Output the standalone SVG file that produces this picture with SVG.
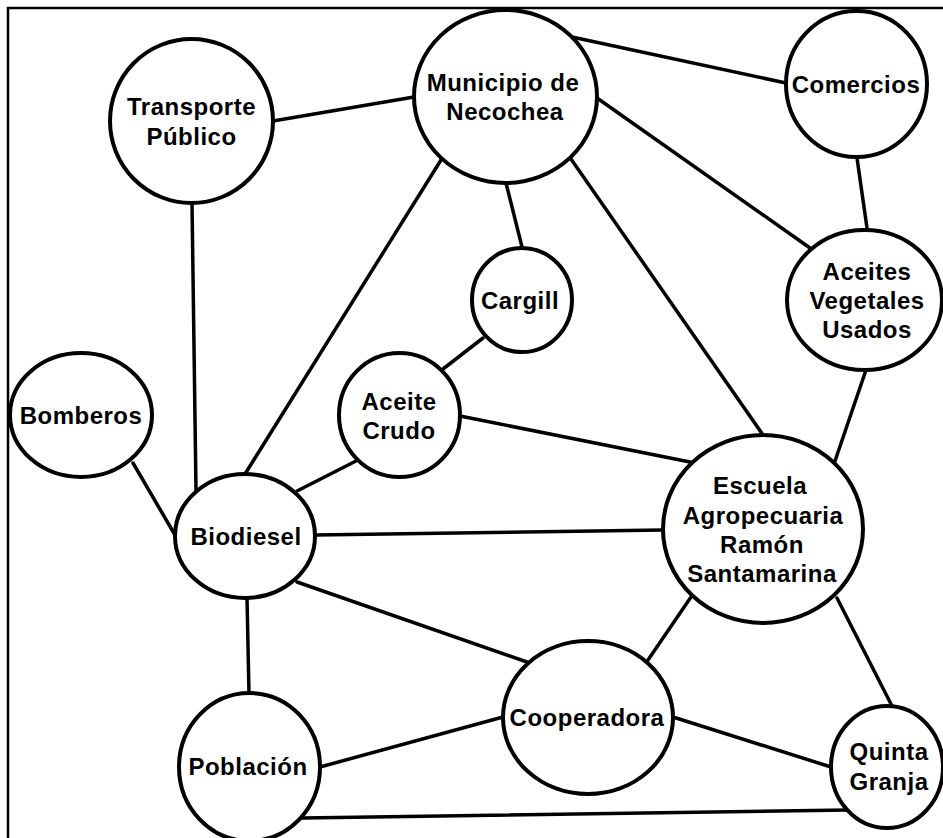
<svg xmlns="http://www.w3.org/2000/svg" width="943" height="838" viewBox="0 0 943 838">
<style>
.frame{stroke:#000;stroke-width:2.5;fill:none}
.edges line{stroke:#000;stroke-width:3.5;stroke-linecap:round}
.node ellipse{fill:#fff;stroke:#000;stroke-width:4}
.node text{font-family:"Liberation Sans",Arial,Helvetica,sans-serif;font-weight:bold;font-size:24px;letter-spacing:0.5px;fill:#000;text-anchor:middle}
</style>
<rect width="943" height="838" fill="#fff"/>
<path class="frame" d="M8,838 V8 H943"/>
<g id="connectors" class="edges">
<line x1="273" y1="121" x2="414" y2="97"/>
<line x1="192" y1="203" x2="196" y2="490"/>
<line x1="572" y1="37" x2="786" y2="83"/>
<line x1="597" y1="98" x2="810" y2="248"/>
<line x1="506" y1="183" x2="522" y2="247"/>
<line x1="571" y1="159" x2="763" y2="435"/>
<line x1="441" y1="160" x2="245" y2="474"/>
<line x1="857" y1="158" x2="867" y2="228"/>
<line x1="866" y1="370" x2="835" y2="461"/>
<line x1="483" y1="338" x2="443" y2="369"/>
<line x1="356" y1="461" x2="297" y2="491"/>
<line x1="460" y1="416" x2="690" y2="462"/>
<line x1="133" y1="463" x2="175" y2="535"/>
<line x1="315" y1="535" x2="663" y2="530"/>
<line x1="297" y1="582" x2="527" y2="662"/>
<line x1="247" y1="598" x2="249" y2="694"/>
<line x1="691" y1="597" x2="648" y2="660"/>
<line x1="837" y1="598" x2="892" y2="706"/>
<line x1="320" y1="767" x2="503" y2="717"/>
<line x1="673" y1="717" x2="831" y2="767"/>
<line x1="302" y1="818" x2="848" y2="810"/>
</g>
<g id="transporte" class="node">
<ellipse cx="191.5" cy="121" rx="81.5" ry="82"/>
<text x="191.5" y="115">Transporte</text>
<text x="191.5" y="145">Público</text>
</g>
<g id="municipio" class="node">
<ellipse cx="505.5" cy="96.5" rx="91.5" ry="86.5"/>
<text x="503" y="91">Municipio de</text>
<text x="505" y="120">Necochea</text>
</g>
<g id="comercios" class="node">
<ellipse cx="856.5" cy="84" rx="70.5" ry="73"/>
<text x="856" y="93">Comercios</text>
</g>
<g id="aceites-vegetales" class="node">
<ellipse cx="864.5" cy="300" rx="77.5" ry="70"/>
<text x="867" y="280">Aceites</text>
<text x="867" y="309">Vegetales</text>
<text x="867" y="338">Usados</text>
</g>
<g id="cargill" class="node">
<ellipse cx="522" cy="300" rx="50" ry="52"/>
<text x="520" y="309">Cargill</text>
</g>
<g id="bomberos" class="node">
<ellipse cx="81" cy="415" rx="71" ry="62"/>
<text x="81" y="424">Bomberos</text>
</g>
<g id="aceite-crudo" class="node">
<ellipse cx="399.5" cy="415" rx="60.5" ry="62"/>
<text x="399" y="410">Aceite</text>
<text x="399" y="439">Crudo</text>
</g>
<g id="biodiesel" class="node">
<ellipse cx="245" cy="536" rx="70" ry="62"/>
<text x="246" y="545">Biodiesel</text>
</g>
<g id="escuela" class="node">
<ellipse cx="763" cy="529" rx="100" ry="94"/>
<text x="760" y="494">Escuela</text>
<text x="763" y="524">Agropecuaria</text>
<text x="762" y="553">Ramón</text>
<text x="762" y="582">Santamarina</text>
</g>
<g id="cooperadora" class="node">
<ellipse cx="588" cy="717.5" rx="85" ry="76.5"/>
<text x="587" y="726">Cooperadora</text>
</g>
<g id="poblacion" class="node">
<ellipse cx="249.5" cy="767" rx="70.5" ry="74"/>
<text x="248" y="775">Población</text>
</g>
<g id="quinta-granja" class="node">
<ellipse cx="887" cy="767" rx="56" ry="61"/>
<text x="889" y="760">Quinta</text>
<text x="889" y="790">Granja</text>
</g>
</svg>
